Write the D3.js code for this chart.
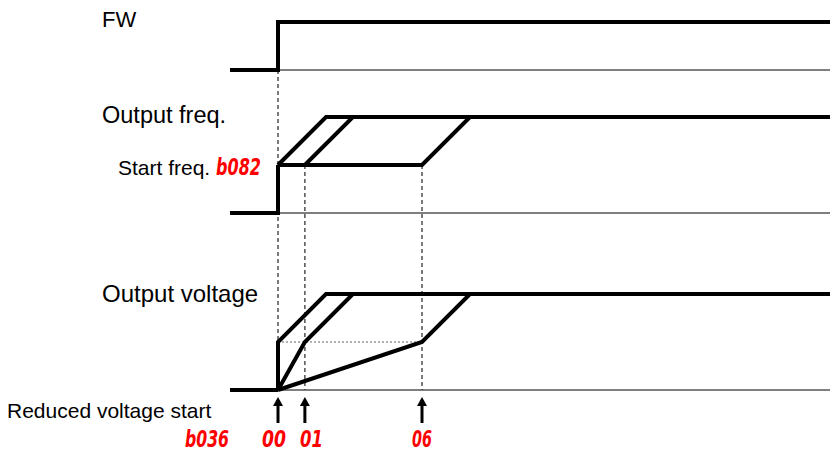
<!DOCTYPE html>
<html>
<head>
<meta charset="utf-8">
<script src="https://cdn.jsdelivr.net/npm/d3@7"></script>
<style>
  body { margin: 0; background: #fff; }
  svg { display: block; }
  .lbl { font-family: "Liberation Sans", Arial, sans-serif; fill: #000; }
  .seg { font-family: "DejaVu Sans Condensed", "DejaVu Sans", sans-serif; font-weight: bold; font-style: oblique; fill: #ff0000; }
</style>
</head>
<body>
<svg id="chart" width="830" height="454"></svg>
<script>
  // time axis (arbitrary units), FW goes on at t = 0
  var timeDomain = [-10, 115];
  var modeCodes = ['00', '01', '06'];
  var holdTimes = [0, 5.6, 30];     // hold at start freq / reduced voltage
  var rampTime = 10;                // time to reach full output after hold
  var fwTimes = [-10, 0, 0, 115];
  var fwLevels = [0, 0, 1, 1];
  var startTimes = [-10, 0, 0];
  var startLevels = [0, 0, 1];

  var svg = d3.select('#chart'),
    x = d3.scaleLinear().domain(timeDomain).range([230, 830]),
    yFw = d3.scaleLinear().domain([0, 2]).range([70, -26]),
    yFreq = d3.scaleLinear().domain([0, 2]).range([213, 117]),
    yVolt = d3.scaleLinear().domain([0, 2]).range([390, 294]);

  function lineFor(y) {
    return d3.line().x(function (d) { return x(d[0]); }).y(function (d) { return y(d[1]); });
  }

  // thin baselines
  [yFw, yFreq, yVolt].forEach(function (y) {
    svg.append('line')
      .attr('x1', x(0)).attr('x2', x(timeDomain[1]))
      .attr('y1', y(0)).attr('y2', y(0))
      .attr('stroke', '#555').attr('stroke-width', 1.5);
  });

  // vertical dashed guides
  modeCodes.forEach(function (c, i) {
    var t = holdTimes[i];
    svg.append('line')
      .attr('x1', x(t)).attr('x2', x(t))
      .attr('y1', i === 0 ? yFw(0) : yFreq(1)).attr('y2', yVolt(0))
      .attr('stroke', '#444').attr('stroke-width', 1.4)
      .attr('stroke-dasharray', '4,3');
  });

  // dotted reduced-voltage level
  svg.append('line')
    .attr('x1', x(0)).attr('x2', x(holdTimes[2]))
    .attr('y1', yVolt(1)).attr('y2', yVolt(1))
    .attr('stroke', '#666').attr('stroke-width', 1.2)
    .attr('stroke-dasharray', '2,2');

  var thick = function (sel) {
    return sel.attr('fill', 'none').attr('stroke', '#000')
      .attr('stroke-width', 4).attr('stroke-linejoin', 'miter');
  };

  // FW signal
  svg.append('path')
    .datum(d3.zip(fwTimes, fwLevels))
    .call(thick)
    .attr('d', lineFor(yFw));

  // output frequency
  svg.append('path')
    .datum(d3.zip(startTimes, startLevels))
    .call(thick)
    .attr('d', lineFor(yFreq));
  svg.selectAll('path.freq')
    .data(holdTimes)
    .enter().append('path')
    .attr('class', 'freq')
    .call(thick)
    .attr('d', function (h) {
      return lineFor(yFreq)([[0, 1], [h, 1], [h + rampTime, 2], [timeDomain[1], 2]]);
    });

  // output voltage
  svg.append('path')
    .datum([[timeDomain[0], 0], [0, 0]])
    .call(thick)
    .attr('d', lineFor(yVolt));
  svg.selectAll('path.volt')
    .data(holdTimes)
    .enter().append('path')
    .attr('class', 'volt')
    .call(thick)
    .attr('d', function (h) {
      return lineFor(yVolt)([[0, 0], [h, 1], [h + rampTime, 2], [timeDomain[1], 2]]);
    });

  // arrows
  holdTimes.forEach(function (h) {
    var ax = x(h);
    svg.append('line')
      .attr('x1', ax).attr('x2', ax).attr('y1', 423).attr('y2', 404)
      .attr('stroke', '#000').attr('stroke-width', 3);
    svg.append('path')
      .attr('d', ['M', ax, 397, 'L', ax + 5, 406, 'L', ax - 5, 406, 'Z'].join(' '))
      .attr('fill', '#000');
  });

  // texts
  svg.append('text').attr('class', 'lbl').attr('x', 102).attr('y', 27)
    .style('font-size', '22px').text('FW');
  svg.append('text').attr('class', 'lbl').attr('x', 102).attr('y', 123)
    .style('font-size', '23.5px').text('Output freq.');
  svg.append('text').attr('class', 'lbl').attr('x', 118).attr('y', 175)
    .style('font-size', '21px').text('Start freq.');
  svg.append('text').attr('class', 'lbl').attr('x', 102).attr('y', 302)
    .style('font-size', '24px').text('Output voltage');
  svg.append('text').attr('class', 'lbl').attr('x', 7).attr('y', 418)
    .style('font-size', '21px').text('Reduced voltage start');

  function seg(txt, x0, y0, len) {
    return svg.append('text').attr('class', 'seg')
      .attr('x', x0).attr('y', y0)
      .attr('textLength', len).attr('lengthAdjust', 'spacingAndGlyphs')
      .style('font-size', '23px').text(txt);
  }
  seg('b082', 216, 175, 45);
  seg('b036', 185, 447, 44);
  var codeShift = [-16, -5, -10],
    codeLen = [24, 23, 20];
  modeCodes.forEach(function (d, i) {
    seg(d, x(holdTimes[i]) + codeShift[i], 447, codeLen[i]);
  });
</script>
</body>
</html>
